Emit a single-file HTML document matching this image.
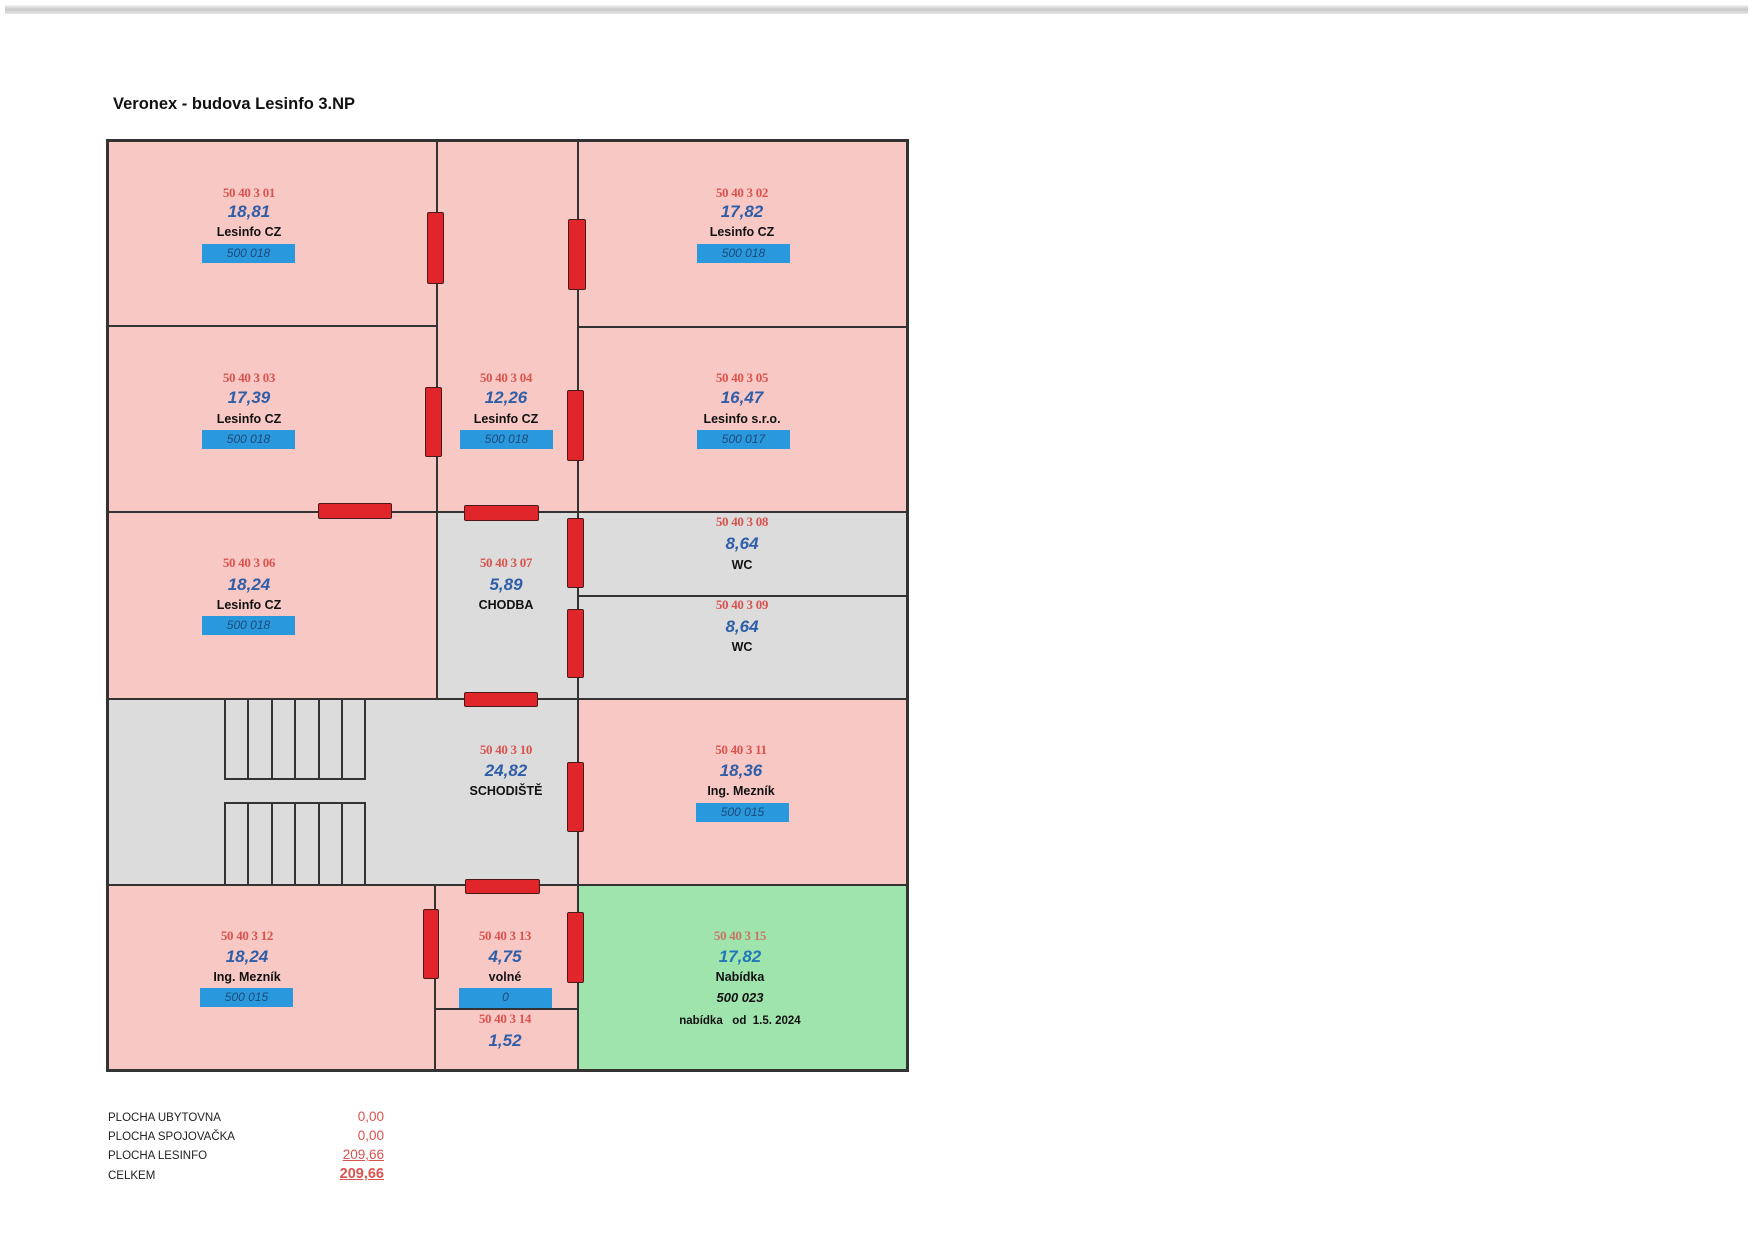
<!DOCTYPE html>
<html><head><meta charset="utf-8"><style>
body{margin:0;background:#fff;}
#p{position:relative;width:1753px;height:1240px;overflow:hidden;background:#fff;font-family:"Liberation Sans",sans-serif;}
.a{position:absolute;}
.r{position:absolute;box-sizing:border-box;}
.v{position:absolute;background:#333;}
.d{position:absolute;background:#e0252b;border:1.5px solid #4a1a1a;box-sizing:border-box;border-radius:2px;}
.t{position:absolute;width:200px;text-align:center;white-space:nowrap;}
.c{color:#d9534f;font-family:"Liberation Serif",serif;font-weight:bold;font-size:13px;line-height:16px;letter-spacing:-0.3px;}
.n{color:#2f5ea8;font-weight:bold;font-style:italic;font-size:17px;line-height:20px;}
.m{color:#111;font-weight:bold;font-size:12.5px;line-height:16px;}
.b{position:absolute;background:#2a98dc;color:#1d4a7a;font-style:italic;font-size:12px;line-height:19px;height:19px;text-align:center;}
.f{position:absolute;font-size:11.5px;color:#222;}
.fv{position:absolute;font-size:13.5px;color:#d9534f;text-align:right;width:80px;font-family:"Liberation Sans",sans-serif;}
</style></head><body><div id="p">
<div class="a" style="left:5px;top:5px;width:1743px;height:9px;background:linear-gradient(#f3f3f3,#c8c8c8,#e8e8e8);"></div>
<div class="a" style="left:113px;top:95px;font-size:16.5px;font-weight:bold;color:#111;">Veronex - budova Lesinfo 3.NP</div>

<div class="r" style="left:107px;top:140px;width:801px;height:931px;background:#f8c8c4;"></div>
<div class="r" style="left:437px;top:512px;width:141px;height:187px;background:#dcdcdc;"></div>
<div class="r" style="left:578px;top:512px;width:330px;height:187px;background:#dcdcdc;"></div>
<div class="r" style="left:107px;top:699px;width:471px;height:186px;background:#dcdcdc;"></div>
<div class="r" style="left:578px;top:885px;width:330px;height:186px;background:#9fe3ad;"></div>

<div class="r" style="left:224px;top:699px;width:142px;height:81px;border:2px solid #333;border-top:none;"></div>
<div class="r" style="left:224px;top:802px;width:142px;height:83px;border:2px solid #333;border-bottom:none;"></div>
<div class="v" style="left:247px;top:699px;width:2px;height:81px"></div>
<div class="v" style="left:271px;top:699px;width:2px;height:81px"></div>
<div class="v" style="left:294px;top:699px;width:2px;height:81px"></div>
<div class="v" style="left:318px;top:699px;width:2px;height:81px"></div>
<div class="v" style="left:341px;top:699px;width:2px;height:81px"></div>
<div class="v" style="left:247px;top:802px;width:2px;height:83px"></div>
<div class="v" style="left:271px;top:802px;width:2px;height:83px"></div>
<div class="v" style="left:294px;top:802px;width:2px;height:83px"></div>
<div class="v" style="left:318px;top:802px;width:2px;height:83px"></div>
<div class="v" style="left:341px;top:802px;width:2px;height:83px"></div>

<div class="r" style="left:106px;top:139px;width:803px;height:933px;border:3px solid #333;"></div>
<div class="v" style="left:436px;top:140px;width:2px;height:372px"></div>
<div class="v" style="left:436px;top:512px;width:2px;height:187px"></div>
<div class="v" style="left:577px;top:140px;width:2px;height:931px"></div>
<div class="v" style="left:434px;top:885px;width:2px;height:186px"></div>
<div class="v" style="left:107px;top:325px;width:330px;height:2px"></div>
<div class="v" style="left:578px;top:326px;width:330px;height:2px"></div>
<div class="v" style="left:107px;top:511px;width:801px;height:2px"></div>
<div class="v" style="left:578px;top:595px;width:330px;height:2px"></div>
<div class="v" style="left:107px;top:698px;width:801px;height:2px"></div>
<div class="v" style="left:107px;top:884px;width:801px;height:2px"></div>
<div class="v" style="left:435px;top:1008px;width:143px;height:2px"></div>

<div class="d" style="left:427px;top:212px;width:17px;height:72px"></div>
<div class="d" style="left:568px;top:219px;width:18px;height:71px"></div>
<div class="d" style="left:425px;top:387px;width:17px;height:70px"></div>
<div class="d" style="left:567px;top:390px;width:17px;height:71px"></div>
<div class="d" style="left:318px;top:503px;width:74px;height:16px"></div>
<div class="d" style="left:464px;top:505px;width:75px;height:16px"></div>
<div class="d" style="left:567px;top:518px;width:17px;height:70px"></div>
<div class="d" style="left:567px;top:609px;width:17px;height:69px"></div>
<div class="d" style="left:464px;top:692px;width:74px;height:15px"></div>
<div class="d" style="left:567px;top:762px;width:17px;height:70px"></div>
<div class="d" style="left:465px;top:879px;width:75px;height:15px"></div>
<div class="d" style="left:423px;top:909px;width:16px;height:70px"></div>
<div class="d" style="left:567px;top:912px;width:17px;height:71px"></div>

<div class="t c" style="left:149px;top:185px">50 40 3 01</div>
<div class="t n" style="left:149px;top:202px">18,81</div>
<div class="t m" style="left:149px;top:224px">Lesinfo CZ</div>
<div class="b" style="left:202px;top:244px;width:93px">500 018</div>
<div class="t c" style="left:642px;top:185px">50 40 3 02</div>
<div class="t n" style="left:642px;top:202px">17,82</div>
<div class="t m" style="left:642px;top:224px">Lesinfo CZ</div>
<div class="b" style="left:697px;top:244px;width:93px">500 018</div>
<div class="t c" style="left:149px;top:370px">50 40 3 03</div>
<div class="t n" style="left:149px;top:388px">17,39</div>
<div class="t m" style="left:149px;top:411px">Lesinfo CZ</div>
<div class="b" style="left:202px;top:430px;width:93px">500 018</div>
<div class="t c" style="left:406px;top:370px">50 40 3 04</div>
<div class="t n" style="left:406px;top:388px">12,26</div>
<div class="t m" style="left:406px;top:411px">Lesinfo CZ</div>
<div class="b" style="left:460px;top:430px;width:93px">500 018</div>
<div class="t c" style="left:642px;top:370px">50 40 3 05</div>
<div class="t n" style="left:642px;top:388px">16,47</div>
<div class="t m" style="left:642px;top:411px">Lesinfo s.r.o.</div>
<div class="b" style="left:697px;top:430px;width:93px">500 017</div>
<div class="t c" style="left:642px;top:514px">50 40 3 08</div>
<div class="t n" style="left:642px;top:534px">8,64</div>
<div class="t m" style="left:642px;top:557px">WC</div>
<div class="t c" style="left:149px;top:555px">50 40 3 06</div>
<div class="t n" style="left:149px;top:575px">18,24</div>
<div class="t m" style="left:149px;top:597px">Lesinfo CZ</div>
<div class="b" style="left:202px;top:616px;width:93px">500 018</div>
<div class="t c" style="left:406px;top:555px">50 40 3 07</div>
<div class="t n" style="left:406px;top:575px">5,89</div>
<div class="t m" style="left:406px;top:597px">CHODBA</div>
<div class="t c" style="left:642px;top:597px">50 40 3 09</div>
<div class="t n" style="left:642px;top:617px">8,64</div>
<div class="t m" style="left:642px;top:639px">WC</div>
<div class="t c" style="left:406px;top:742px">50 40 3 10</div>
<div class="t n" style="left:406px;top:761px">24,82</div>
<div class="t m" style="left:406px;top:783px">SCHODIŠTĚ</div>
<div class="t c" style="left:641px;top:742px">50 40 3 11</div>
<div class="t n" style="left:641px;top:761px">18,36</div>
<div class="t m" style="left:641px;top:783px">Ing. Mezník</div>
<div class="b" style="left:696px;top:803px;width:93px">500 015</div>
<div class="t c" style="left:147px;top:928px">50 40 3 12</div>
<div class="t n" style="left:147px;top:947px">18,24</div>
<div class="t m" style="left:147px;top:969px">Ing. Mezník</div>
<div class="b" style="left:200px;top:988px;width:93px">500 015</div>
<div class="t c" style="left:405px;top:928px">50 40 3 13</div>
<div class="t n" style="left:405px;top:947px">4,75</div>
<div class="t m" style="left:405px;top:969px">volné</div>
<div class="b" style="left:459px;top:988px;width:93px;height:20px">0</div>
<div class="t c" style="left:405px;top:1011px">50 40 3 14</div>
<div class="t n" style="left:405px;top:1031px">1,52</div>
<div class="t c" style="left:640px;top:928px;color:#c8766a">50 40 3 15</div>
<div class="t n" style="left:640px;top:947px;color:#1f78b8">17,82</div>
<div class="t m" style="left:640px;top:969px">Nabídka</div>
<div class="t m" style="left:640px;top:990px;font-style:italic;font-size:13px">500 023</div>
<div class="t m" style="left:640px;top:1013px;font-size:11.5px">nabídka&nbsp;&nbsp; od&nbsp; 1.5. 2024</div>

<div class="f" style="left:108px;top:1112px">PLOCHA UBYTOVNA</div>
<div class="f" style="left:108px;top:1131px">PLOCHA SPOJOVAČKA</div>
<div class="f" style="left:108px;top:1150px">PLOCHA LESINFO</div>
<div class="f" style="left:108px;top:1170px">CELKEM</div>
<div class="fv" style="left:304px;top:1109px">0,00</div>
<div class="fv" style="left:304px;top:1128px">0,00</div>
<div class="fv" style="left:304px;top:1147px;text-decoration:underline">209,66</div>
<div class="fv" style="left:304px;top:1166px;text-decoration:underline;font-weight:bold;font-size:14.5px">209,66</div>
</div></body></html>
